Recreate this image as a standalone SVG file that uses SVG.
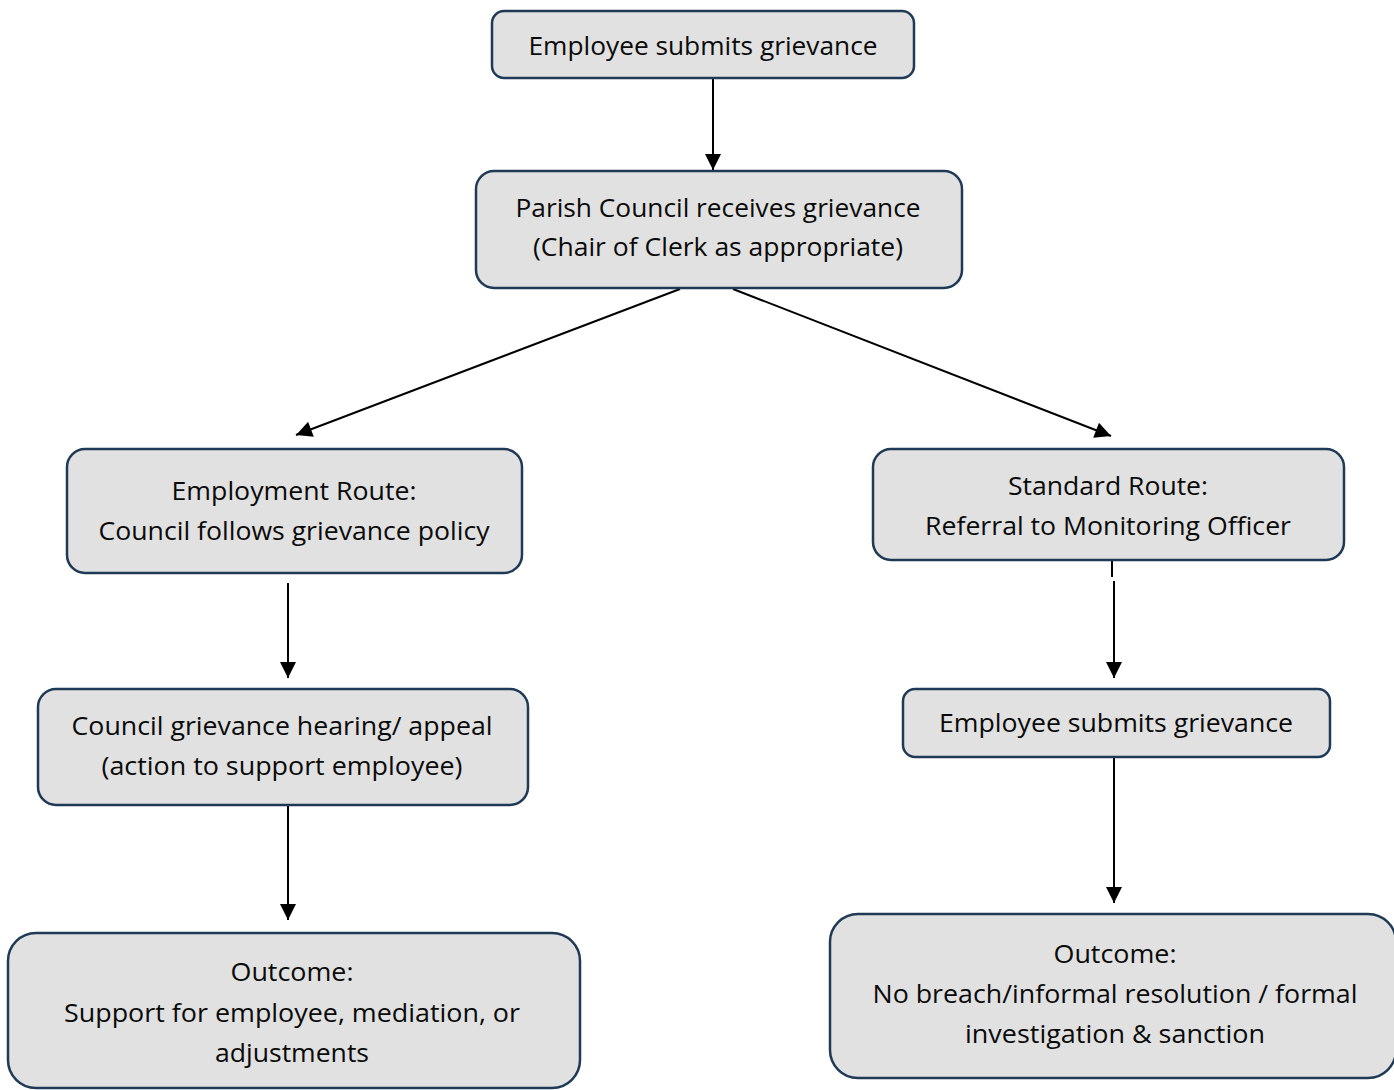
<svg xmlns="http://www.w3.org/2000/svg" width="1394" height="1090" viewBox="0 0 1394 1090">
<defs>
<marker id="ah2" viewBox="0 0 16 16" refX="16" refY="8" markerWidth="17" markerHeight="16" markerUnits="userSpaceOnUse" orient="auto"><path d="M0,0 L16,8 L0,16 z" fill="#000"/></marker>
<style>
.box{fill:#e1e1e1;stroke:#1f3a56;stroke-width:2.5}
.t{font-family:"Open Sans","Noto Sans","Liberation Sans",sans-serif;font-size:26px;fill:#0a0a0a;text-anchor:middle}
.c{stroke:#000;stroke-width:2;fill:none}
</style>
</defs>
<rect width="1394" height="1090" fill="#fff"/>
<g id="connectors">
<line class="c" x1="713" y1="79" x2="713" y2="170" marker-end="url(#ah2)"/>
<line class="c" x1="680" y1="289" x2="296" y2="435" marker-end="url(#ah2)"/>
<line class="c" x1="733" y1="289" x2="1111" y2="436" marker-end="url(#ah2)"/>
<line class="c" x1="288" y1="583" x2="288" y2="678" marker-end="url(#ah2)"/>
<line class="c" x1="288" y1="806" x2="288" y2="920" marker-end="url(#ah2)"/>
<line class="c" x1="1112" y1="561" x2="1112" y2="577"/>
<line class="c" x1="1114" y1="581" x2="1114" y2="678" marker-end="url(#ah2)"/>
<line class="c" x1="1114" y1="758" x2="1114" y2="903" marker-end="url(#ah2)"/>
</g>
<g id="n1"><rect class="box" x="492" y="11" width="422" height="67" rx="12"/>
<text class="t" x="703" y="55" textLength="349" lengthAdjust="spacingAndGlyphs">Employee submits grievance</text></g>
<g id="n2"><rect class="box" x="476" y="171" width="486" height="117" rx="18"/>
<text class="t" x="718" y="217" textLength="405" lengthAdjust="spacingAndGlyphs">Parish Council receives grievance</text>
<text class="t" x="718" y="256" textLength="370" lengthAdjust="spacingAndGlyphs">(Chair of Clerk as appropriate)</text></g>
<g id="n3"><rect class="box" x="67" y="449" width="455" height="124" rx="18"/>
<text class="t" x="294" y="500" textLength="245" lengthAdjust="spacingAndGlyphs">Employment Route:</text>
<text class="t" x="294" y="540" textLength="391" lengthAdjust="spacingAndGlyphs">Council follows grievance policy</text></g>
<g id="n4"><rect class="box" x="873" y="449" width="471" height="111" rx="18"/>
<text class="t" x="1108" y="495" textLength="200" lengthAdjust="spacingAndGlyphs">Standard Route:</text>
<text class="t" x="1108" y="535" textLength="366" lengthAdjust="spacingAndGlyphs">Referral to Monitoring Officer</text></g>
<g id="n5"><rect class="box" x="38" y="689" width="490" height="116" rx="18"/>
<text class="t" x="282" y="735" textLength="421" lengthAdjust="spacingAndGlyphs">Council grievance hearing/ appeal</text>
<text class="t" x="282" y="775" textLength="361" lengthAdjust="spacingAndGlyphs">(action to support employee)</text></g>
<g id="n6"><rect class="box" x="903" y="689" width="427" height="68" rx="12"/>
<text class="t" x="1116" y="732" textLength="354" lengthAdjust="spacingAndGlyphs">Employee submits grievance</text></g>
<g id="n7"><rect class="box" x="8" y="933" width="572" height="155" rx="28"/>
<text class="t" x="292" y="981" textLength="123" lengthAdjust="spacingAndGlyphs">Outcome:</text>
<text class="t" x="292" y="1022" textLength="456" lengthAdjust="spacingAndGlyphs">Support for employee, mediation, or</text>
<text class="t" x="292" y="1062" textLength="154" lengthAdjust="spacingAndGlyphs">adjustments</text></g>
<g id="n8"><rect class="box" x="830" y="914" width="566" height="164" rx="28"/>
<text class="t" x="1115" y="963" textLength="123" lengthAdjust="spacingAndGlyphs">Outcome:</text>
<text class="t" x="1115" y="1003" textLength="485" lengthAdjust="spacingAndGlyphs">No breach/informal resolution / formal</text>
<text class="t" x="1115" y="1043" textLength="300" lengthAdjust="spacingAndGlyphs">investigation &amp; sanction</text></g>
</svg>
